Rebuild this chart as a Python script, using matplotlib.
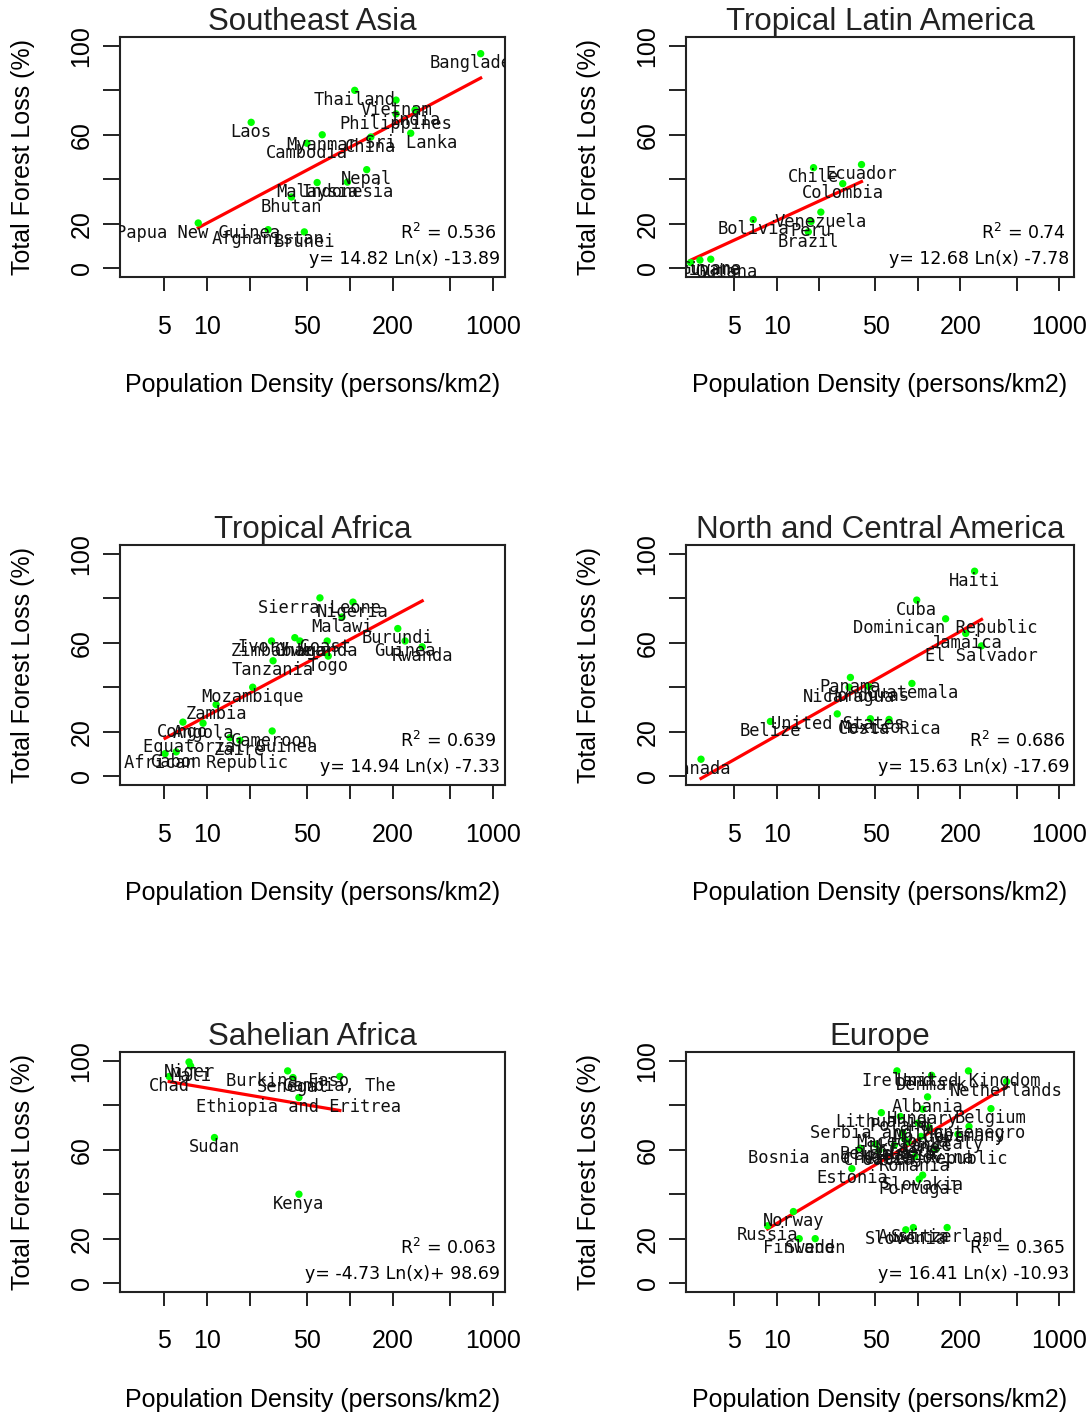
import numpy as np
import matplotlib
matplotlib.use("Agg")
from matplotlib import pyplot as plt

# ---- data ----
sea_names = ["Bangladesh", "Thailand", "Vietnam", "India", "Philippines", "Laos", "Myanmar",
             "Cambodia", "China", "Sri Lanka", "Nepal", "Indonesia", "Malaysia", "Bhutan",
             "Papua New Guinea", "Afghanistan", "Brunei"]
sea_dens = [820, 108, 210, 285, 210, 20.4, 64, 50, 140, 266, 131, 96, 59, 39, 8.7, 26.8, 48]
sea_loss = [96.5, 80, 75.6, 71.2, 69.4, 65.6, 60, 56.2, 59, 60.7, 44.3, 38.7, 38.5, 32, 20.3, 17.3, 16.3]

tla_names = ["Ecuador", "Chile", "Colombia", "Venezuela", "Peru", "Bolivia", "Brazil",
             "Guyana", "Suriname", "French Guiana"]
tla_dens = [39.8, 18.2, 29.3, 20.5, 17.5, 6.8, 16.7, 3.4, 2.85, 2.45]
tla_loss = [46.6, 45.2, 38, 25.2, 21, 21.8, 16.3, 4.0, 3.6, 2.5]

taf_names = ["Sierra Leone", "Nigeria", "Malawi", "Burundi", "Guinea", "Rwanda", "Ivory Coast",
             "Zimbabwe", "Ghana", "Uganda", "Togo", "Tanzania", "Mozambique", "Zambia", "Congo",
             "Angola", "Cameroon", "Equatorial Guinea", "Zaire", "Gabon", "Central African Republic"]
taf_dens = [61.7, 105, 88, 216, 243, 320, 41.2, 28.3, 44.7, 69.3, 70.5, 29, 20.9, 11.6, 6.8,
            9.4, 28.6, 14.5, 17, 6.1, 5.1]
taf_loss = [80.2, 78.3, 71.6, 66.4, 60.8, 58.2, 62.3, 60.8, 60.8, 60.8, 54, 51.9, 40, 32.2, 24.3,
            23.8, 20.3, 17.3, 16.1, 10.9, 10.1]

nca_names = ["Haiti", "Cuba", "Dominican Republic", "Jamaica", "El Salvador", "Guatemala",
             "Panama", "Nicaragua", "Honduras", "United States", "Mexico", "Costa Rica",
             "Belize", "Canada"]
nca_dens = [252, 98, 157, 218, 282, 90.6, 33.2, 32.5, 44.9, 26.8, 46, 62.4, 9.0, 2.9]
nca_loss = [92.2, 79.2, 70.8, 64.2, 58.6, 41.7, 44.4, 40, 40.3, 28, 25.8, 25.5, 24.6, 7.6]

sah_names = ["Niger", "Mali", "Chad", "Burkina Faso", "Gambia, The", "Senegal",
             "Ethiopia and Eritrea", "Sudan", "Kenya"]
sah_dens = [7.5, 7.7, 5.45, 36.7, 85, 40, 44, 11.3, 44]
sah_loss = [99.5, 97.7, 93, 95.5, 93, 92.5, 83.5, 65.5, 40]

eur_names = ["United Kingdom", "Ireland", "Denmark", "Netherlands", "Albania", "Belgium",
             "Hungary", "Lithuania", "Poland", "Serbia and Montenegro", "Germany", "Italy",
             "Macedonia", "Moldova", "France", "Greece", "Ukraine", "Bulgaria", "Croatia",
             "Bosnia and Herzegovina", "Czech Republic", "Belarus", "Romania", "Estonia",
             "Slovakia", "Portugal", "Norway", "Russia", "Finland", "Sweden", "Austria",
             "Switzerland", "Slovenia"]
eur_dens = [228, 71, 125, 425, 117, 329, 108, 55, 75, 100, 230, 192, 78, 120, 105, 85, 80,
            68, 53, 39, 134, 50, 95, 34, 108, 102, 13.1, 8.6, 14.4, 18.7, 92.7, 161, 82]
eur_loss = [95.5, 95.5, 93.5, 90.7, 83.8, 78.5, 78.3, 76.7, 75, 72, 70.5, 67, 67.7, 70, 66,
            63.5, 65, 62, 59.8, 60.7, 60.3, 62.5, 57, 51.5, 48.6, 46.8, 32.2, 25.8, 20, 20,
            25, 25, 24]

titles = ["Southeast Asia", "Tropical Latin America", "Tropical Africa",
          "North and Central America", "Sahelian Africa", "Europe"]
slopes = [14.82, 12.68, 14.94, 15.63, -4.73, 16.41]
intercepts = [-13.89, -7.78, -7.33, -17.69, 98.69, -10.93]
r2_text = ["0.536", "0.74", "0.639", "0.686", "0.063", "0.365"]
eq_text = ["y= 14.82 Ln(x) -13.89", "y= 12.68 Ln(x) -7.78", "y= 14.94 Ln(x) -7.33",
           "y= 15.63 Ln(x) -17.69", "y= -4.73 Ln(x)+ 98.69", "y= 16.41 Ln(x) -10.93"]

xticks = [5, 10, 20, 50, 100, 200, 500, 1000]
xticklabels = ["5", "10", "", "50", "", "200", "", "1000"]
yticks = [0, 20, 40, 60, 80, 100]
yticklabels = ["0", "20", "", "60", "", "100"]

panels = [(sea_names, sea_dens, sea_loss), (tla_names, tla_dens, tla_loss),
          (taf_names, taf_dens, taf_loss), (nca_names, nca_dens, nca_loss),
          (sah_names, sah_dens, sah_loss), (eur_names, eur_dens, eur_loss)]

# ---- layout ----
fig = plt.figure(figsize=(10.86, 14.12), dpi=100)
W, H = 1086.0, 1412.0
col_left = [120, 686]
col_right = [505, 1074]
row_top = [37, 545, 1052]
row_bot = [277, 785, 1292]
col_xlim = [(2.47, 1213), (2.27, 1276)]

sans = "Liberation Sans"

for k in range(6):
    r, c = k // 2, k % 2
    names, dens, loss = panels[k]
    ax = fig.add_axes([col_left[c] / W, 1 - row_bot[r] / H,
                       (col_right[c] - col_left[c]) / W, (row_bot[r] - row_top[r]) / H])
    ax.set_xscale("log")
    ax.set_xlim(col_xlim[c])
    ax.set_ylim(-4, 104)

    # regression line over the data range
    xs = np.geomspace(min(dens), max(dens), 60)
    ax.plot(xs, slopes[k] * np.log(xs) + intercepts[k], color="red", lw=2.3, zorder=2)
    ax.scatter(dens, loss, s=28, color="#00ff00", edgecolors="none", zorder=3)
    for nm, x, y in zip(names, dens, loss):
        ax.annotate(nm, (x, y), xytext=(0, -7), textcoords="offset points",
                    ha="center", va="center", fontsize=12.3, family="DejaVu Sans Mono",
                    color="#111111", clip_on=True, annotation_clip=True)

    ax.text(0.978, 0.185, "R$^2$ = " + r2_text[k], transform=ax.transAxes,
            ha="right", va="center", fontsize=12.5, family="DejaVu Sans")
    ax.text(0.988, 0.075, eq_text[k], transform=ax.transAxes,
            ha="right", va="center", fontsize=12.5, family="DejaVu Sans")

    ax.set_xticks(xticks)
    ax.set_xticklabels(xticklabels, fontsize=18, family=sans)
    ax.xaxis.set_minor_locator(matplotlib.ticker.NullLocator())
    ax.set_yticks(yticks)
    ax.set_yticklabels(yticklabels, fontsize=18, family=sans, rotation=90, va="center")
    ax.tick_params(axis="x", length=10, width=1.4, pad=17, color="#222222")
    ax.tick_params(axis="y", length=12, width=1.4, pad=7, color="#222222")
    for sp in ax.spines.values():
        sp.set_linewidth(1.5)
        sp.set_color("#222222")

    ax.set_title(titles[k], fontsize=22.5, family=sans, pad=2, color="#222222")
    ax.set_xlabel("Population Density (persons/km2)", fontsize=18, family=sans, labelpad=25)
    ax.set_ylabel("Total Forest Loss (%)", fontsize=18, family=sans, labelpad=25)

fig.savefig("out.png", dpi=100)
